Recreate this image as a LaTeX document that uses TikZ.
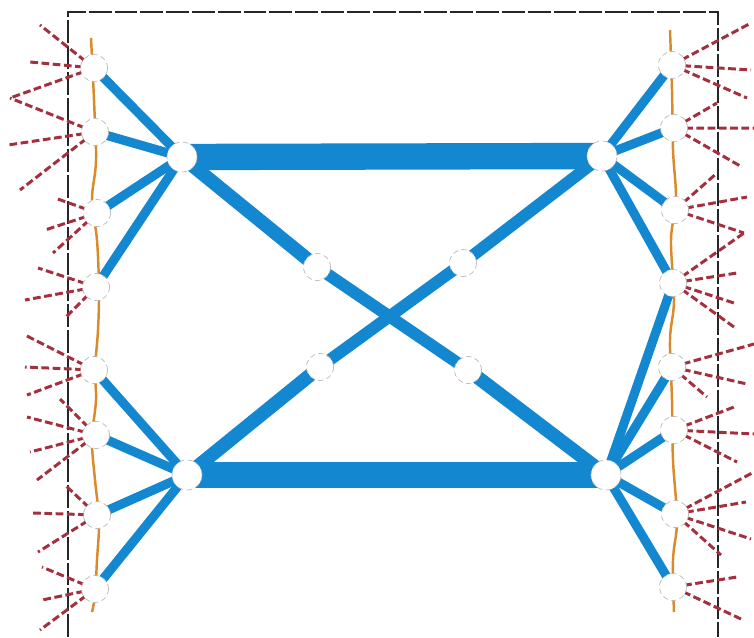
\documentclass[tikz,border=0pt]{standalone}
\usetikzlibrary{backgrounds}
\definecolor{netblue}{HTML}{1487D1}
\definecolor{rayred}{HTML}{A52F3D}
\definecolor{wireorange}{HTML}{D98A2B}
\pgfdeclarelayer{bg}
\pgfsetlayers{bg,main}
\tikzset{
  dot/.style={circle,draw=gray!55,densely dashed,line width=0.4pt,fill=white,minimum size=27*0.02cm,inner sep=0pt},
  hub/.style={dot,minimum size=30*0.02cm},
  bar/.style={netblue,line width=15pt},
  diag/.style={netblue,line width=7.8pt},
  diagthin/.style={netblue,line width=6.8pt},
  spoke/.style={netblue,line width=5.2pt},
  ray/.style={rayred,line width=1.7pt,dash pattern=on 4.4pt off 2pt},
  frameline/.style={black!85,line width=1.4pt,dash pattern=on 13pt off 1.7pt},
  wire/.style={wireorange,line width=1.4pt}
}
\begin{document}
\begin{tikzpicture}[x=0.02cm,y=-0.02cm]
\useasboundingbox (0,0) rectangle (754,637);
% frame corners
\coordinate (TL) at (68,12);
\coordinate (TR) at (718,12);
\coordinate (BL) at (68,637);
\coordinate (BR) at (718,637);
% left small nodes
\node[dot] (L1) at (94,68) {};
\node[dot] (L2) at (95,132) {};
\node[dot] (L3) at (97,213) {};
\node[dot] (L4) at (96,287) {};
\node[dot] (L5) at (94,370) {};
\node[dot] (L6) at (96,435) {};
\node[dot] (L7) at (97,515) {};
\node[dot] (L8) at (95,589) {};
% right small nodes
\node[dot] (R1) at (672,65) {};
\node[dot] (R2) at (674,128) {};
\node[dot] (R3) at (675,210) {};
\node[dot] (R4) at (673,283) {};
\node[dot] (R5) at (672,367) {};
\node[dot] (R6) at (674,430) {};
\node[dot] (R7) at (675,514) {};
\node[dot] (R8) at (673,587) {};
% hubs
\node[hub] (HL1) at (182,157) {};
\node[hub] (HL2) at (187,475) {};
\node[hub] (HR1) at (602,156) {};
\node[hub] (HR2) at (606,475) {};
% middle nodes
\node[dot] (M1) at (317,267) {};
\node[dot] (M2) at (463,263) {};
\node[dot] (M3) at (320,367) {};
\node[dot] (M4) at (468,370) {};

\begin{pgfonlayer}{bg}
% frame
\draw[frameline] (BL) -- (TL) -- (TR) -- (BR);
% orange wires
\draw[wire] plot[smooth,tension=0.6] coordinates {(91,38) (94,100) (96,160) (92,200) (97,240) (99,290) (98,330) (95,370) (96,400) (92,440) (95,480) (99,520) (97,560) (95,595) (92,612)};
\draw[wire] plot[smooth,tension=0.6] coordinates {(670,30) (672,90) (673,150) (676,200) (671,240) (674,300) (670,340) (672,400) (673,460) (677,520) (673,560) (674,612)};
% red rays left
\draw[ray] (L1.center) -- ++(-54,-43) (L1.center) -- ++(-64,-6) (L1.center) -- ++(-84,30);
\draw[ray] (L2.center) -- ++(-85,-34) (L2.center) -- ++(-87,13) (L2.center) -- ++(-75,58);
\draw[ray] (L3.center) -- ++(-42,-15) (L3.center) -- ++(-52,17) (L3.center) -- ++(-44,40);
\draw[ray] (L4.center) -- ++(-58,-19) (L4.center) -- ++(-71,13) (L4.center) -- ++(-31,31);
\draw[ray] (L5.center) -- ++(-69,-35) (L5.center) -- ++(-69,-3) (L5.center) -- ++(-67,25);
\draw[ray] (L6.center) -- ++(-36,-36) (L6.center) -- ++(-69,-18) (L6.center) -- ++(-66,17) (L6.center) -- ++(-59,45);
\draw[ray] (L7.center) -- ++(-32,-30) (L7.center) -- ++(-64,-2) (L7.center) -- ++(-59,37);
\draw[ray] (L8.center) -- ++(-53,-22) (L8.center) -- ++(-53,11) (L8.center) -- ++(-55,41);
% red rays right
\draw[ray] (R1.center) -- ++(79,-42) (R1.center) -- ++(79,5) (R1.center) -- ++(75,33);
\draw[ray] (R2.center) -- ++(43,-25) (R2.center) -- ++(80,0) (R2.center) -- ++(68,39);
\draw[ray] (R3.center) -- ++(42,-37) (R3.center) -- ++(72,-13) (R3.center) -- ++(69,23);
\draw[ray] (R4.center) -- ++(71,-50) (R4.center) -- ++(64,-10) (R4.center) -- ++(61,20) (R4.center) -- ++(61,44);
\draw[ray] (R5.center) -- ++(82,-23) (R5.center) -- ++(75,17) (R5.center) -- ++(35,30);
\draw[ray] (R6.center) -- ++(60,-23) (R6.center) -- ++(80,4) (R6.center) -- ++(63,32);
\draw[ray] (R7.center) -- ++(79,-42) (R7.center) -- ++(71,-12) (R7.center) -- ++(76,25) (R7.center) -- ++(46,41);
\draw[ray] (R8.center) -- ++(64,-10) (R8.center) -- ++(68,32);
% blue spokes
\foreach \n in {L1,L2,L3,L4} \draw[spoke] (HL1.center) -- (\n.center);
\foreach \n in {L5,L6,L7,L8} \draw[spoke] (HL2.center) -- (\n.center);
\foreach \n in {R1,R2,R3,R4} \draw[spoke] (HR1.center) -- (\n.center);
\foreach \n in {R4,R5,R6,R7,R8} \draw[spoke] (HR2.center) -- (\n.center);
% diagonals
\draw[diag] (HL1.center) -- (M1.center);
\draw[diagthin] (M1.center) -- (M4.center);
\draw[diag] (M4.center) -- (HR2.center);
\draw[diagthin] (HR1.center) -- (M2.center);
\draw[diagthin] (M2.center) -- (M3.center);
\draw[diag] (M3.center) -- (HL2.center);
% bars
\draw[bar] (HL1.center) -- (HR1.center);
\draw[bar] (HL2.center) -- (HR2.center);
\end{pgfonlayer}
\end{tikzpicture}
\end{document}
